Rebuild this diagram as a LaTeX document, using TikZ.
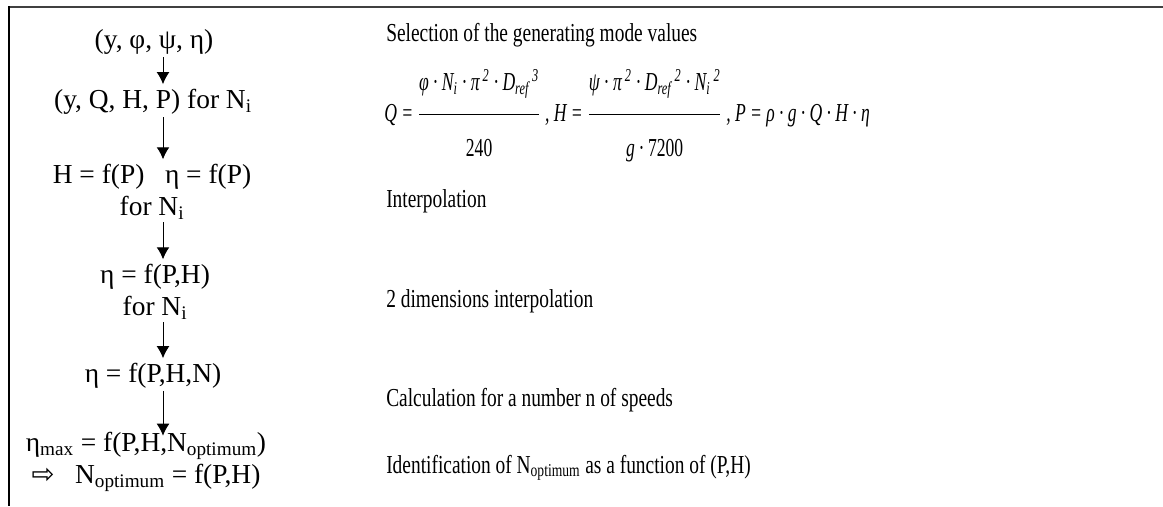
\documentclass[tikz,border=0pt]{standalone}
\usepackage{amsmath}
\usepackage{fontspec}
\setmainfont{Liberation Serif}
\newfontfamily\schmal{Liberation Serif}[FakeStretch=0.75]
\newfontfamily\formel{Liberation Serif}[FakeStretch=0.68]
\newfontfamily\pfeilfont{DejaVu Sans}
\usetikzlibrary{arrows.meta}

\newcommand{\bruch}[2]{$\dfrac{\hbox{\rule[-15pt]{0pt}{0pt}#1}}{\hbox{\rule{0pt}{27pt}#2}}$}

\begin{document}
\begin{tikzpicture}[x=0.025cm, y=-0.025cm,
			>={Latex[length=3mm,width=3.2mm]},   %Pfeilspitzen
			links/.style={anchor=base, inner sep=0pt, align=center, font=\fontsize{19.5}{22.7}\selectfont},
			rechts/.style={anchor=base west, inner sep=0pt, font=\schmal\fontsize{18.4}{22.7}\selectfont},
			pfeil/.style={->, line width=0.7pt, shorten <=2pt, shorten >=3pt}]
			\useasboundingbox (0,0) rectangle (1163,506);
			%Rahmen zeichnen
			\draw[line width=1.2pt, black!75] (8,7) -- (1163,7);
			\draw[line width=1.1pt] (9,6) -- (9,506);
			%Ablauf links (Grundlinie = letzte Zeile)
			\coordinate (ax) at (163,0);
			\node[links] (s1) at (154,48) {(y,\ φ,\ ψ,\ η)};
			\node[links] (s2) at (153,108) {(y, Q, H, P) for N\textsubscript{i}};
			\node[links] (s3) at (152,215) {H = f(P)\enskip\ η = f(P)\\ for N\textsubscript{i}};
			\node[links] (s4) at (155,315) {η = f(P,H)\\ for N\textsubscript{i}};
			\node[links] (s5) at (153,382) {η = f(P,H,N)};
			\node[links] (s6) at (146,483) {η\textsubscript{max} = f(P,H,N\textsubscript{optimum})\\ {\pfeilfont ⇨}\enskip\ N\textsubscript{optimum} = f(P,H)};
			\foreach \a/\b in {s1/s2, s2/s3, s3/s4, s4/s5}
				\draw[pfeil] (\a.south -| ax) -- (\b.north -| ax);
			\draw[pfeil, shorten >=-3pt] (s5.south -| ax) -- (s6.north -| ax);
			%Beschriftung rechts
			\node[rechts] (t1) at (386,42) {Selection of the generating mode values};
			\node[rechts] (t2) at (384,121) {\formel\itshape Q\,=\,\bruch{φ\,·\,N\textsubscript{i}\,·\,π\textsuperscript{\,2}\,·\,D\textsubscript{ref}\textsuperscript{\,3}}{\upshape 240}\,, H = \bruch{ψ · π\textsuperscript{\,2} · D\textsubscript{ref}\textsuperscript{\,2} · N\textsubscript{i}\textsuperscript{\,2}}{g · {\upshape 7200}}\,, P\,=\,ρ\,·\,g\,·\,Q\,·\,H\,·\,η};
			\node[rechts] (t3) at (386,207) {Interpolation};
			\node[rechts] (t4) at (386,307) {2 dimensions interpolation};
			\node[rechts] (t5) at (386,406) {Calculation for a number n of speeds};
			\node[rechts] (t6) at (386,473) {Identification of N\textsubscript{optimum} as a function of (P,H)};
		\end{tikzpicture}
\end{document}
